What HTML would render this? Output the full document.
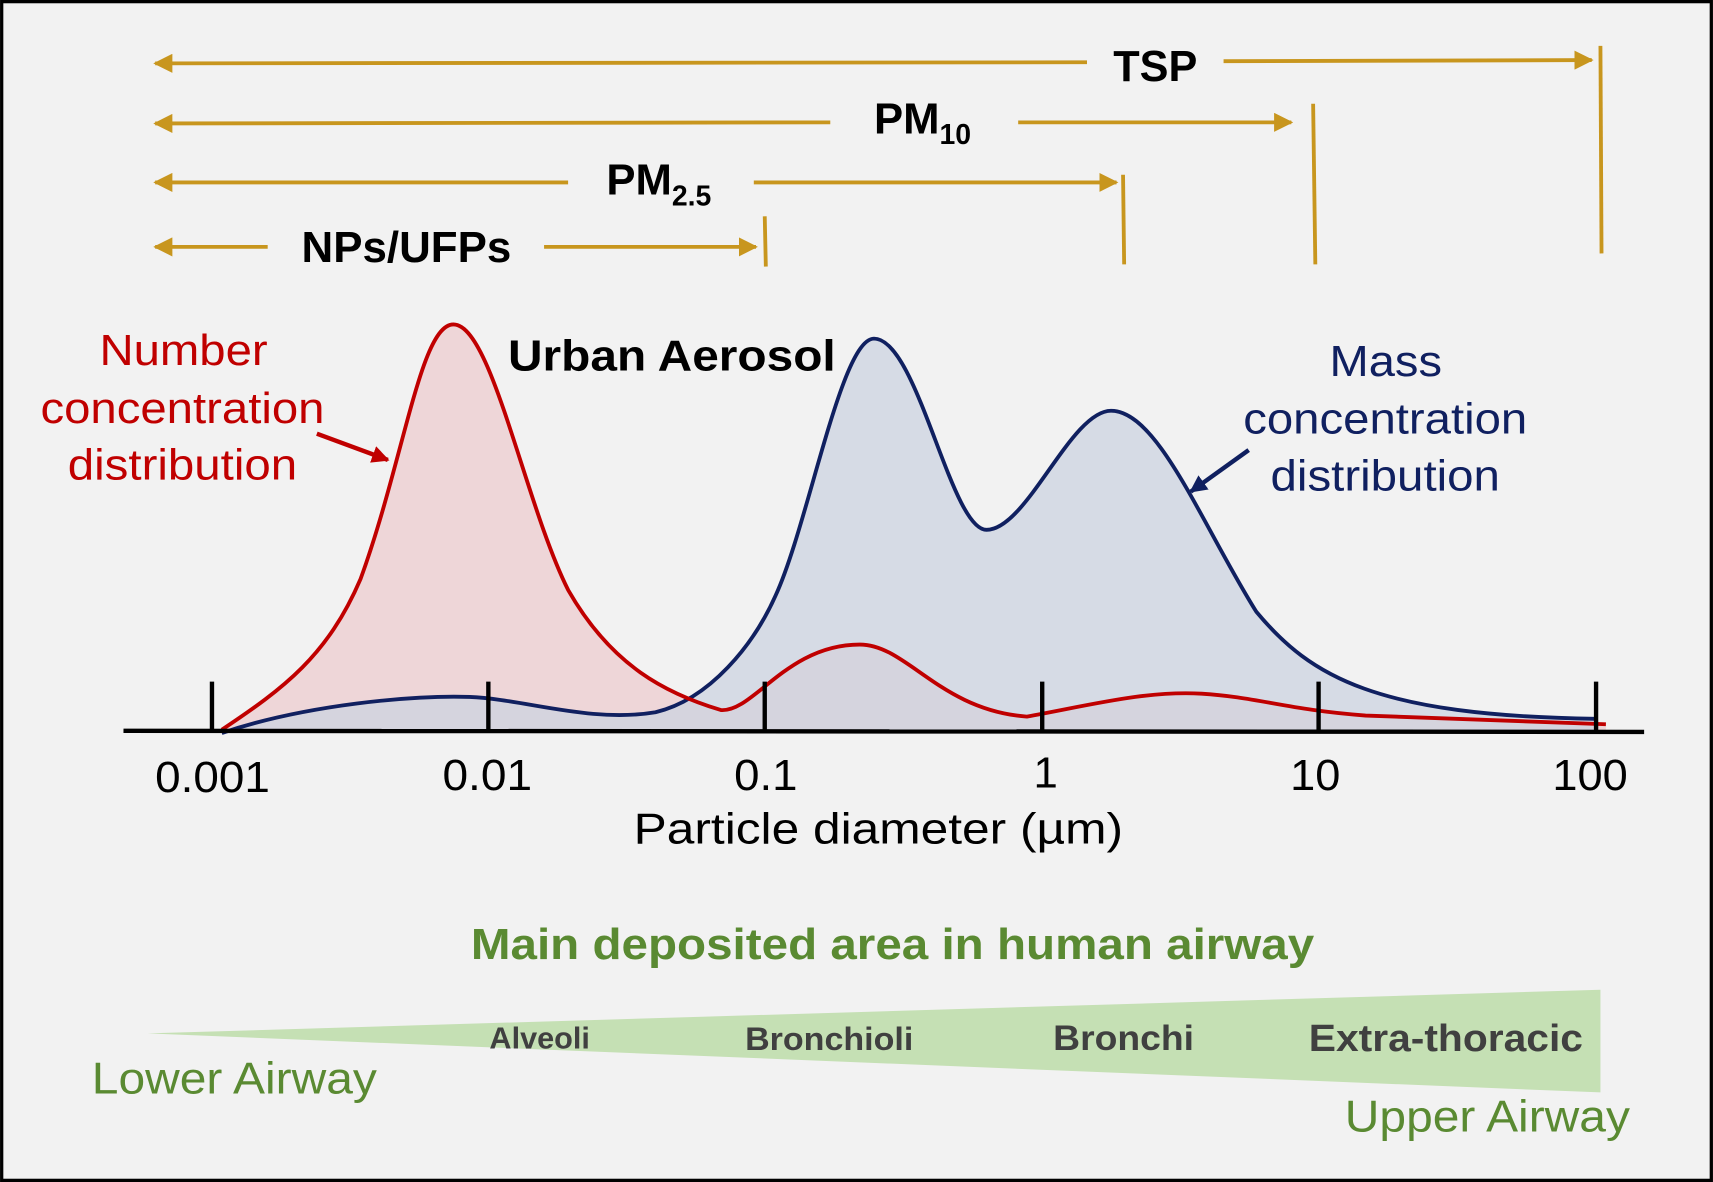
<!DOCTYPE html>
<html><head><style>html,body{margin:0;padding:0;background:#f2f2f2}svg{display:block}</style></head><body>
<svg width="1713" height="1182" viewBox="0 0 1568 1082" xmlns="http://www.w3.org/2000/svg" font-family="Liberation Sans, sans-serif">
<rect x="1.5" y="1.5" width="1565" height="1079" fill="#f2f2f2" stroke="#000" stroke-width="3"/>
<defs>
<marker id="g" viewBox="0 0 10 10" refX="9" refY="5" markerWidth="5" markerHeight="5" orient="auto-start-reverse"><path d="M0,0L10,5L0,10z" fill="#c8961e"/></marker>
<marker id="r" viewBox="0 0 10 10" refX="9" refY="5" markerWidth="4" markerHeight="4" orient="auto"><path d="M0,0L10,5L0,10z" fill="#c00000"/></marker>
<marker id="b" viewBox="0 0 10 10" refX="9" refY="5" markerWidth="4" markerHeight="4" orient="auto"><path d="M0,0L10,5L0,10z" fill="#102060"/></marker>
</defs>
<g stroke="#c8961e" stroke-width="3.5" fill="none">
<line x1="142" y1="58" x2="995" y2="57" marker-start="url(#g)"/><line x1="1120" y1="56" x2="1457" y2="55" marker-end="url(#g)"/><line x1="1465" y1="42" x2="1466" y2="232"/>
<line x1="142" y1="113" x2="760" y2="112" marker-start="url(#g)"/><line x1="932" y1="112" x2="1182" y2="112" marker-end="url(#g)"/><line x1="1202" y1="95" x2="1204" y2="242"/>
<line x1="142" y1="167" x2="520" y2="167" marker-start="url(#g)"/><line x1="690" y1="167" x2="1022" y2="167" marker-end="url(#g)"/><line x1="1028" y1="160" x2="1029" y2="242"/>
<line x1="142" y1="226" x2="245" y2="226" marker-start="url(#g)"/><line x1="498" y1="226" x2="692" y2="226" marker-end="url(#g)"/><line x1="700" y1="198" x2="701" y2="244"/>
</g>
<g font-weight="bold" font-size="40" fill="#000">
<text x="1019" y="74" textLength="77" lengthAdjust="spacingAndGlyphs">TSP</text>
<text x="800" y="122">PM<tspan font-size="26" dy="10">10</tspan></text>
<text x="555" y="178">PM<tspan font-size="26" dy="10">2.5</tspan></text>
<text x="276" y="240" textLength="192" lengthAdjust="spacingAndGlyphs">NPs/UFPs</text>
</g>
<path d="M203,668 C260,630 300,600 330,530 C370,420 385,297 415,297 C450,297 480,460 520,540 C560,610 610,635 660,650 C690,652 720,590 787,590 C830,590 860,650 940,656 C1000,645 1050,632 1100,635 C1150,638 1180,650 1250,655 L1470,663 L1470,669 L203,669Z" fill="#eed6d8"/>
<path d="M203,671 C280,645 380,636 430,638 C480,640 540,662 600,652 C650,640 690,590 710,545 C740,480 770,310 800,310 C840,310 870,485 903,485 C940,485 980,376 1017,376 C1060,376 1100,480 1150,560 C1200,620 1260,655 1460,658 L1460,669 L203,669Z" fill="#ccd3e0" fill-opacity="0.75"/>
<path d="M203,671 C280,645 380,636 430,638 C480,640 540,662 600,652 C650,640 690,590 710,545 C740,480 770,310 800,310 C840,310 870,485 903,485 C940,485 980,376 1017,376 C1060,376 1100,480 1150,560 C1200,620 1260,655 1460,658" fill="none" stroke="#102060" stroke-width="3.5"/>
<path d="M203,668 C260,630 300,600 330,530 C370,420 385,297 415,297 C450,297 480,460 520,540 C560,610 610,635 660,650 C690,652 720,590 787,590 C830,590 860,650 940,656 C1000,645 1050,632 1100,635 C1150,638 1180,650 1250,655 L1470,663" fill="none" stroke="#c00000" stroke-width="3.5"/>
<line x1="113" y1="669" x2="1505" y2="670" stroke="#000" stroke-width="4"/>
<g stroke="#000" stroke-width="4"><line x1="194" y1="624" x2="194" y2="669"/><line x1="447" y1="624" x2="447" y2="669"/><line x1="700" y1="624" x2="700" y2="669"/><line x1="954" y1="624" x2="954" y2="669"/><line x1="1207" y1="624" x2="1207" y2="669"/><line x1="1461" y1="624" x2="1461" y2="669"/></g>
<g font-size="40" fill="#000">
<text x="142" y="725" textLength="105" lengthAdjust="spacingAndGlyphs">0.001</text><text x="405" y="723" textLength="82" lengthAdjust="spacingAndGlyphs">0.01</text><text x="672" y="723" textLength="58" lengthAdjust="spacingAndGlyphs">0.1</text><text x="946" y="721">1</text><text x="1181" y="723" textLength="46" lengthAdjust="spacingAndGlyphs">10</text><text x="1421" y="723" textLength="69" lengthAdjust="spacingAndGlyphs">100</text>
<text x="580" y="772" textLength="448" lengthAdjust="spacingAndGlyphs">Particle diameter  (µm)</text>
</g>
<g font-size="40" fill="#c00000"><text x="91" y="334" textLength="154" lengthAdjust="spacingAndGlyphs">Number</text><text x="37" y="387" textLength="260" lengthAdjust="spacingAndGlyphs">concentration</text><text x="62" y="439" textLength="210" lengthAdjust="spacingAndGlyphs">distribution</text></g>
<line x1="290" y1="397" x2="355" y2="421" stroke="#c00000" stroke-width="4" marker-end="url(#r)"/>
<text x="465" y="339" font-size="40" font-weight="bold" textLength="300" lengthAdjust="spacingAndGlyphs">Urban Aerosol</text>
<g font-size="40" fill="#102060"><text x="1217" y="344" textLength="103" lengthAdjust="spacingAndGlyphs">Mass</text><text x="1138" y="397" textLength="260" lengthAdjust="spacingAndGlyphs">concentration</text><text x="1163" y="449" textLength="210" lengthAdjust="spacingAndGlyphs">distribution</text></g>
<line x1="1143" y1="412" x2="1090" y2="450" stroke="#102060" stroke-width="4" marker-end="url(#b)"/>
<text x="431" y="878" font-size="40" font-weight="bold" fill="#5a8a32" textLength="772" lengthAdjust="spacingAndGlyphs">Main deposited area in human airway</text>
<polygon points="135,946 1465,906 1465,1000" fill="#c5e0b4"/>
<g font-weight="bold" fill="#404040"><text x="448" y="960" font-size="28" textLength="92" lengthAdjust="spacingAndGlyphs">Alveoli</text><text x="682" y="961" font-size="30" textLength="154" lengthAdjust="spacingAndGlyphs">Bronchioli</text><text x="964" y="961" font-size="32" textLength="129" lengthAdjust="spacingAndGlyphs">Bronchi</text><text x="1198" y="962" font-size="35" textLength="251" lengthAdjust="spacingAndGlyphs">Extra-thoracic</text></g>
<g font-size="41" fill="#5a8a32"><text x="84" y="1001" textLength="261" lengthAdjust="spacingAndGlyphs">Lower Airway</text><text x="1231" y="1036" textLength="261" lengthAdjust="spacingAndGlyphs">Upper Airway</text></g>
</svg>
</body></html>
